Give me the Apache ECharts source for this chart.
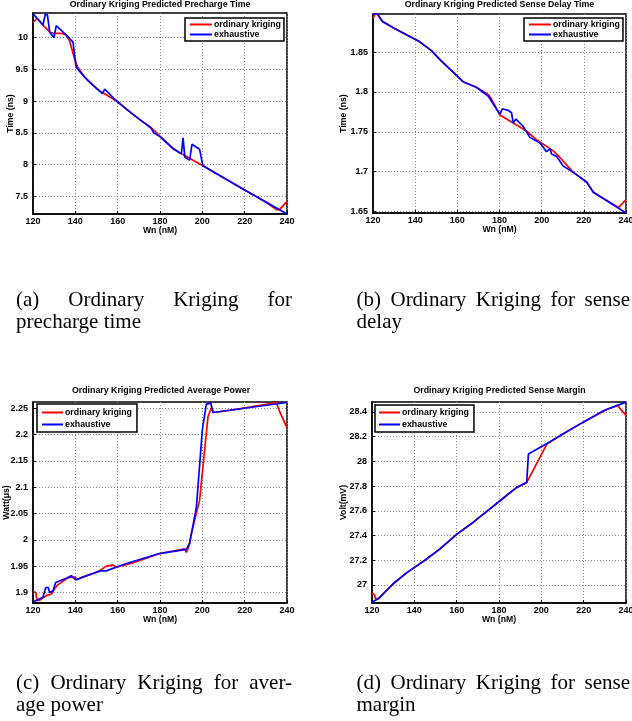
<!DOCTYPE html>
<html><head><meta charset="utf-8">
<script src="https://cdn.jsdelivr.net/npm/echarts@6/dist/echarts.min.js"></script>
<style>html,body{margin:0;padding:0;background:#fff}#c{width:632px;height:721px}</style>
</head><body><div id="c"></div>
<script>
// ---------------- data ----------------
const seriesNames = ['ordinary kriging', 'exhaustive'];
const panelTitles = [
  'Ordinary Kriging Predicted Precharge Time',
  'Ordinary Kriging Predicted Sense Delay Time',
  'Ordinary Kriging Predicted Average Power',
  'Ordinary Kriging Predicted Sense Margin'
];
const xName = 'Wn (nM)';
const yNames = ['Time (ns)', 'Time (ns)', 'Watt(\u03bcs)', 'Volt(mV)'];
const xTicks = [120, 140, 160, 180, 200, 220, 240];
const yTicksA = [7.5, 8, 8.5, 9, 9.5, 10];
const yTicksB = [1.65, 1.7, 1.75, 1.8, 1.85];
const yTicksC = [1.9, 1.95, 2, 2.05, 2.1, 2.15, 2.2, 2.25];
const yTicksD = [27, 27.2, 27.4, 27.6, 27.8, 28, 28.2, 28.4];
const yRangeA = [7.22, 10.39];
const yRangeB = [1.648, 1.898];
const yRangeC = [1.88, 2.262];
const yRangeD = [26.854, 28.481];

const krigingA = [[120,10.24],[121.9,10.31],[124.7,10.2],[127.9,10.09],[129.5,10.07],[133,10.07],[135.5,10.05],[137.3,9.95],[139.7,9.66],[141.2,9.53],[144.4,9.38],[148,9.26],[151.5,9.16],[154.6,9.1],[159.4,9.0],[165,8.85],[170,8.72],[175.9,8.58],[180,8.45],[186.1,8.26],[189,8.19],[192.4,8.13],[196,8.06],[200.3,7.98],[210,7.79],[220,7.6],[230,7.41],[235,7.29],[236.5,7.29],[240,7.42]];
const exhaustiveA = [[120,10.38],[124.7,10.2],[125.8,10.37],[126.8,10.36],[127.9,10.09],[129.9,10.0],[131,10.19],[135.5,10.05],[138.9,9.93],[140.3,9.55],[141.5,9.49],[144.4,9.38],[148,9.26],[152.8,9.12],[153.9,9.19],[154.8,9.17],[158.6,9.03],[165,8.85],[170,8.72],[175.9,8.57],[177,8.5],[180,8.44],[186.1,8.25],[190.1,8.17],[190.9,8.42],[191.7,8.12],[194,8.07],[195.1,8.32],[198.7,8.24],[200.3,7.98],[210,7.79],[220,7.6],[230,7.41],[240,7.22]];

const krigingB = [[120,1.8925],[120.8,1.897],[121.9,1.898],[124,1.890],[126,1.886],[130,1.880],[142.2,1.863],[147.7,1.852],[152,1.840],[162.7,1.813],[169,1.806],[174.6,1.797],[176,1.792],[180.2,1.771],[186.5,1.761],[192.8,1.751],[197.6,1.740],[205.5,1.726],[208.6,1.718],[215,1.699],[221.3,1.687],[224.5,1.674],[230,1.665],[236.6,1.655],[240,1.665]];
const exhaustiveB = [[120,1.897],[121.9,1.899],[124.7,1.888],[126.3,1.886],[130,1.880],[142.2,1.863],[147.7,1.852],[152,1.840],[162.7,1.813],[169,1.806],[174.6,1.795],[175.4,1.794],[180.2,1.772],[181.4,1.779],[184.1,1.777],[185.7,1.774],[186.5,1.761],[187.8,1.766],[191.2,1.757],[194.4,1.743],[199.2,1.736],[202.3,1.725],[204,1.729],[204.7,1.722],[207.1,1.719],[210.2,1.707],[215,1.699],[221.3,1.687],[224.5,1.674],[230,1.665],[240,1.648]];

const krigingC = [[120,1.902],[121.3,1.9],[121.9,1.885],[123.1,1.885],[126.3,1.894],[128.7,1.897],[130.2,1.907],[131.8,1.915],[136.5,1.928],[139.7,1.929],[140.8,1.925],[145.2,1.932],[150.7,1.939],[154.6,1.95],[157.8,1.952],[159.4,1.948],[167.2,1.956],[179.8,1.974],[191.7,1.983],[192.4,1.976],[193.5,1.986],[194.8,2.012],[198.7,2.075],[202.7,2.235],[204.3,2.251],[205.4,2.242],[214.6,2.247],[235,2.261],[236.5,2.244],[240,2.213]];
const exhaustiveC = [[120,1.882],[124.7,1.891],[126,1.909],[127.1,1.91],[127.9,1.9],[129.4,1.903],[130.7,1.919],[135.7,1.927],[138.1,1.932],[138.9,1.931],[140.2,1.924],[148.3,1.936],[151.5,1.941],[154.6,1.941],[164.1,1.955],[179.8,1.974],[192.4,1.982],[194,1.993],[197.2,2.062],[200,2.209],[201.9,2.258],[204,2.26],[205,2.242],[240,2.261]];

const krigingD = [[120,26.93],[121.1,26.925],[121.6,26.89],[123.1,26.89],[130,27.01],[136.5,27.1],[145,27.2],[152,27.29],[160,27.41],[168,27.51],[176,27.62],[184,27.73],[188.4,27.79],[193.1,27.83],[202.6,28.14],[210,28.22],[220,28.32],[230.9,28.42],[236.1,28.454],[237.2,28.427],[240,28.373]];
const exhaustiveD = [[120,26.86],[123.1,26.89],[130,27.01],[136.5,27.1],[145,27.2],[152,27.29],[160,27.41],[168,27.51],[176,27.62],[184,27.73],[188.4,27.79],[193.1,27.83],[193.9,28.06],[204.1,28.16],[210,28.22],[220,28.32],[229.3,28.41],[240,28.48]];

const captionA = [['(a)', 'Ordinary', 'Kriging', 'for'], ['precharge', 'time']];
const captionB = [['(b)', 'Ordinary', 'Kriging', 'for', 'sense'], ['delay']];
const captionC = [['(c)', 'Ordinary', 'Kriging', 'for', 'aver-'], ['age', 'power']];
const captionD = [['(d)', 'Ordinary', 'Kriging', 'for', 'sense'], ['margin']];

// ---------------- layout ----------------
const SANS = '"Liberation Sans", Arial, sans-serif';
const SERIF = '"Liberation Serif", "Times New Roman", serif';
const COLORS = ['#ff0000', '#0000ff'];
const grids = [
  {left: 33, top: 13, width: 254, height: 201},
  {left: 373, top: 14, width: 253, height: 199},
  {left: 33, top: 402, width: 254, height: 201},
  {left: 372, top: 402, width: 254, height: 201}
];
const yTicks = [yTicksA, yTicksB, yTicksC, yTicksD];
const yRanges = [yRangeA, yRangeB, yRangeC, yRangeD];
const yNameGaps = [17.5, 24.5, 22, 24];
const data = [[krigingA, exhaustiveA], [krigingB, exhaustiveB], [krigingC, exhaustiveC], [krigingD, exhaustiveD]];
const titleCenters = [[160, 0], [499.5, 0], [161, 386], [499.5, 386]];
const legendPos = [
  {left: 185, top: 18, padding: [2, 3, 2, 5], itemGap: 1, itemWidth: 22},
  {left: 524, top: 18, padding: [2, 3, 2, 5], itemGap: 1, itemWidth: 22},
  {left: 37, top: 404, padding: [4, 5, 3, 5], itemGap: 3, itemWidth: 21},
  {left: 375, top: 405, padding: [3, 5, 3, 4], itemGap: 3, itemWidth: 21}
];

const axisFont = {color: '#000', fontFamily: SANS, fontWeight: 'bold', fontSize: 8.7};
const tickFont = {color: '#000', fontFamily: SANS, fontWeight: 'bold', fontSize: 9};
const splitLine = {show: true, lineStyle: {color: '#8a8a8a', width: 1, type: [1, 2]}};

const option = {
  backgroundColor: '#fff',
  animation: false,
  title: panelTitles.map((t, i) => ({
    text: t, left: titleCenters[i][0], top: titleCenters[i][1], textAlign: 'center', padding: 0,
    textStyle: {color: '#000', fontFamily: SANS, fontWeight: 'bold', fontSize: 8.8}
  })),
  legend: legendPos.map((p, i) => ({
    data: seriesNames, orient: 'vertical', left: p.left, top: p.top, padding: p.padding,
    itemGap: p.itemGap, itemWidth: p.itemWidth, itemHeight: 2, icon: 'rect',
    backgroundColor: '#fff', borderColor: '#000', borderWidth: 1.5, borderRadius: 0,
    selectedMode: false,
    textStyle: {color: '#000', fontFamily: SANS, fontWeight: 'bold', fontSize: 8.8, padding: [0, 0, 0, -3]}
  })),
  grid: grids.map(g => Object.assign({show: true, borderColor: '#000', borderWidth: 1.5, backgroundColor: '#fff', containLabel: false, outerBoundsMode: 'none'}, g)),
  xAxis: grids.map((g, i) => ({
    type: 'value', gridIndex: i, min: xTicks[0], max: xTicks[xTicks.length - 1], interval: xTicks[1] - xTicks[0],
    name: xName, nameLocation: 'middle', nameGap: 12.5, nameMoveOverlap: false, nameTextStyle: axisFont,
    axisLine: {show: true, onZero: false, lineStyle: {color: '#000', width: 1.5}},
    axisTick: {show: true, inside: true, length: 3, lineStyle: {color: '#000'}},
    axisLabel: Object.assign({margin: 3.5}, tickFont),
    splitLine: splitLine
  })),
  yAxis: grids.map((g, i) => ({
    type: 'value', gridIndex: i, min: yRanges[i][0], max: yRanges[i][1],
    name: yNames[i], nameLocation: 'middle', nameGap: yNameGaps[i], nameMoveOverlap: false, nameTextStyle: axisFont,
    axisLine: {show: true, onZero: false, lineStyle: {color: '#000', width: 1.5}},
    axisTick: {show: true, inside: true, length: 3, lineStyle: {color: '#000'}, customValues: yTicks[i]},
    axisLabel: Object.assign({margin: 5, customValues: yTicks[i], showMinLabel: true, showMaxLabel: true}, tickFont),
    splitLine: splitLine
  })),
  series: [],
  graphic: []
};

data.forEach((pair, i) => {
  pair.forEach((d, k) => {
    option.series.push({
      type: 'line', name: seriesNames[k], xAxisIndex: i, yAxisIndex: i, data: d,
      symbol: 'none', showSymbol: false, color: COLORS[k],
      lineStyle: {color: COLORS[k], width: 1.7}, z: 2 + k, clip: true
    });
  });
});

// captions (justified first lines)
const measureCtx = document.createElement('canvas').getContext('2d');
const CAP_SIZE = 21;
measureCtx.font = CAP_SIZE + 'px ' + SERIF;
const captionLayouts = [
  {lines: captionA, x0: 16, x1: 292, y: 300},
  {lines: captionB, x0: 356.5, x1: 630, y: 300},
  {lines: captionC, x0: 16, x1: 292, y: 683},
  {lines: captionD, x0: 356.5, x1: 630, y: 683}
];
captionLayouts.forEach(c => {
  c.lines.forEach((words, li) => {
    const y = c.y + li * 22;
    const style = {fill: '#000', font: CAP_SIZE + 'px ' + SERIF, verticalAlign: 'middle', align: 'left'};
    if (li === 0) {
      const widths = words.map(w => measureCtx.measureText(w).width);
      const total = widths.reduce((a, b) => a + b, 0);
      const gap = (c.x1 - c.x0 - total) / (words.length - 1);
      let x = c.x0;
      words.forEach((w, wi) => {
        option.graphic.push({type: 'text', x: x, y: y, style: Object.assign({text: w}, style)});
        x += widths[wi] + gap;
      });
    } else {
      option.graphic.push({type: 'text', x: c.x0, y: y, style: Object.assign({text: words.join(' ')}, style)});
    }
  });
});

const chart = echarts.init(document.getElementById('c'), null, {renderer: 'canvas'});
chart.setOption(option);
</script>
</body></html>
